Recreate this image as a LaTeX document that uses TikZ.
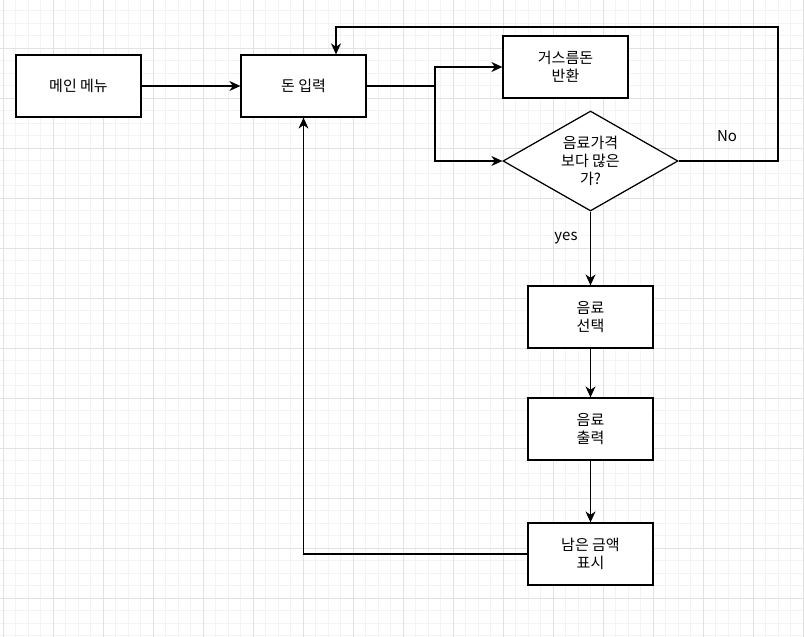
\documentclass[tikz,border=0pt]{standalone}
\usepackage{fontspec}
\setmainfont{Noto Sans CJK KR}
\usetikzlibrary{arrows.meta,shapes.geometric}
\definecolor{gridminor}{HTML}{F3F3F3}
\definecolor{gridmajor}{HTML}{E2E2E2}
\tikzset{
  box/.style={draw, line width=1.25pt, minimum width=125pt, minimum height=62pt,
    align=center, font=\fontsize{15pt}{18pt}\selectfont, inner sep=0pt},
  choice/.style={draw, diamond, line width=1.25pt, minimum width=175pt, minimum height=100pt,
    aspect=1.75, align=center, font=\fontsize{15pt}{18pt}\selectfont, inner sep=0pt},
  link/.style={line width=1.25pt, -{Stealth[length=11pt,width=10pt,inset=3.5pt]}},
  plain/.style={line width=1.25pt},
  lbl/.style={font=\fontsize{15pt}{18pt}\selectfont}
}
\begin{document}
\begin{tikzpicture}[x=1pt,y=-1pt]
  \useasboundingbox[fill=white] (0,0) rectangle (804,637);
  % grid
  \foreach \i in {0,...,64} \draw[gridminor] (3+12.5*\i,0) -- (3+12.5*\i,637);
  \foreach \i in {0,...,51} \draw[gridminor] (0,10.5+12.5*\i) -- (804,10.5+12.5*\i);
  \foreach \i in {0,...,16} \draw[gridmajor] (3+50*\i,0) -- (3+50*\i,637);
  \foreach \i in {0,...,12} \draw[gridmajor] (0,-2+50*\i) -- (804,-2+50*\i);
  % nodes
  \node[box, fill=white] (menu) at (78.5,86) {메인 메뉴};
  \node[box, fill=white] (input) at (303.5,86) {돈 입력};
  \node[box, fill=white] (change) at (565.5,67) {거스름돈\\반환};
  \node[choice, fill=white] (check) at (590.5,161) {음료가격\\보다 많은\\가?};
  \node[box, fill=white] (select) at (590.5,317) {음료\\선택};
  \node[box, fill=white] (output) at (590.5,429) {음료\\출력};
  \node[box, fill=white] (rest) at (590.5,554) {남은 금액\\표시};
  \coordinate (split) at (435,86);
  % connectors
  \draw[link] (menu) -- (input);
  \draw[plain] (input) -- (split);
  \draw[link] (split) |- (change);
  \draw[link] (split) |- (check);
  \draw[link] (check.east) -- (778,161) -- (778,27) -| ([xshift=32.5pt]input.north);
  \draw[link] (check) -- (select);
  \draw[link] (select) -- (output);
  \draw[link] (output) -- (rest);
  \draw[link] (rest) -| (input);
  \node[lbl] (no) at (727,136) {No};
  \node[lbl] (yes) at (566,238) {yes};
\end{tikzpicture}
\end{document}
